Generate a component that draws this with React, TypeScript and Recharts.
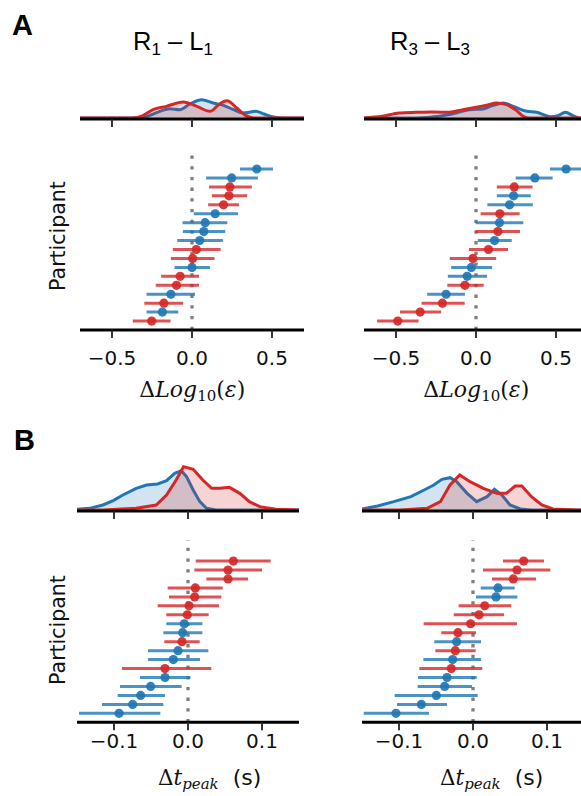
import React from 'react';
import { ScatterChart, Scatter, XAxis, YAxis, ReferenceLine, ErrorBar, AreaChart, Area } from 'recharts';

const BLUE = '#1f77b4';
const RED = '#d62728';

// ---- Participant rows, listed top to bottom ----
// Panel A, R1 - L1
const a1Mean = [0.405, 0.248, 0.237, 0.231, 0.197, 0.145, 0.082, 0.074, 0.048, 0.027, 0.004, 0.0, -0.074, -0.097, -0.132, -0.176, -0.185, -0.252];
const a1Lo = [0.3, 0.088, 0.107, 0.124, 0.101, 0.011, -0.059, -0.057, -0.092, -0.12, -0.132, -0.109, -0.193, -0.227, -0.284, -0.298, -0.284, -0.37];
const a1Hi = [0.506, 0.412, 0.374, 0.345, 0.294, 0.288, 0.221, 0.208, 0.193, 0.179, 0.141, 0.113, 0.044, 0.044, 0.019, -0.055, -0.086, -0.134];
const a1Grp = ['b', 'b', 'r', 'r', 'r', 'b', 'b', 'b', 'b', 'r', 'r', 'b', 'r', 'r', 'b', 'r', 'b', 'r'];

// Panel A, R3 - L3
const a3Mean = [0.563, 0.368, 0.239, 0.235, 0.21, 0.149, 0.147, 0.137, 0.116, 0.078, -0.019, -0.029, -0.055, -0.069, -0.187, -0.21, -0.349, -0.489];
const a3Lo = [0.462, 0.248, 0.13, 0.13, 0.071, 0.029, -0.002, -0.002, 0.011, -0.044, -0.164, -0.155, -0.176, -0.179, -0.305, -0.34, -0.475, -0.618];
const a3Hi = [0.68, 0.479, 0.353, 0.342, 0.355, 0.273, 0.296, 0.275, 0.223, 0.2, 0.126, 0.101, 0.069, 0.048, -0.069, -0.071, -0.218, -0.359];
const a3Grp = ['b', 'b', 'r', 'b', 'b', 'r', 'b', 'r', 'b', 'r', 'r', 'b', 'b', 'r', 'b', 'r', 'r', 'r'];

// Panel B, R1 - L1
const b1Mean = [0.0613, 0.0541, 0.0541, 0.0099, 0.009, 0.0014, -0.0009, -0.005, -0.0072, -0.0081, -0.0135, -0.0198, -0.0311, -0.0311, -0.0505, -0.064, -0.0748, -0.0932];
const b1Lo = [0.0104, 0.0086, 0.0248, -0.0275, -0.0257, -0.041, -0.0293, -0.0293, -0.0333, -0.032, -0.054, -0.054, -0.0892, -0.0649, -0.0919, -0.095, -0.1162, -0.1473];
const b1Hi = [0.1117, 0.1, 0.0811, 0.0468, 0.045, 0.0419, 0.0279, 0.0194, 0.0194, 0.0158, 0.0275, 0.0162, 0.0315, 0.0032, -0.0086, -0.0311, -0.0333, -0.0374];
const b1Grp = ['r', 'r', 'r', 'r', 'r', 'r', 'r', 'b', 'b', 'r', 'b', 'b', 'r', 'b', 'b', 'b', 'b', 'b'];

// Panel B, R3 - L3
const b3Mean = [0.0685, 0.0595, 0.0545, 0.0338, 0.0311, 0.0158, 0.0081, -0.0032, -0.0203, -0.0221, -0.0239, -0.0275, -0.0293, -0.0351, -0.0383, -0.0495, -0.0698, -0.1041];
const b3Lo = [0.0405, 0.0135, 0.0257, 0.0104, 0.0041, -0.0194, -0.0261, -0.0667, -0.0428, -0.0523, -0.0509, -0.0671, -0.0725, -0.0743, -0.0748, -0.1059, -0.1027, -0.1477];
const b3Hi = [0.0959, 0.1045, 0.0851, 0.0563, 0.0599, 0.0518, 0.0419, 0.0595, 0.0041, 0.0108, 0.0036, 0.0108, 0.0126, 0.005, -0.0014, 0.0063, -0.0351, -0.0595];
const b3Grp = ['r', 'r', 'r', 'b', 'b', 'r', 'r', 'r', 'r', 'b', 'r', 'b', 'r', 'b', 'b', 'b', 'b', 'b'];

// ---- Density curves (relative heights) ----
const a1BlueX = [-0.7, -0.31, -0.265, -0.2, -0.14, -0.076, -0.013, 0.06, 0.134, 0.197, 0.26, 0.32, 0.397, 0.45, 0.51, 0.57, 0.7];
const a1BlueD = [0, 0, 8, 20, 28, 25, 42, 55, 45, 38, 25, 15, 20, 12, 3, 0, 0];
const a1RedX = [-0.7, -0.37, -0.307, -0.244, -0.16, -0.055, 0.03, 0.113, 0.166, 0.218, 0.28, 0.334, 0.387, 0.7];
const a1RedD = [0, 0, 7, 25, 35, 48, 35, 20, 40, 52, 30, 8, 0, 0];

const a3BlueX = [-0.7, -0.376, -0.229, -0.124, -0.04, 0.044, 0.107, 0.17, 0.233, 0.317, 0.38, 0.464, 0.506, 0.559, 0.61, 0.653, 0.7];
const a3BlueD = [0, 0, 5, 15, 25, 27, 38, 45, 35, 20, 17, 4, 6, 17, 6, 0, 0];
const a3RedX = [-0.7, -0.586, -0.481, -0.376, -0.271, -0.166, -0.082, 0.002, 0.065, 0.128, 0.191, 0.254, 0.296, 0.338, 0.7];
const a3RedD = [0, 5, 15, 17, 18, 17, 25, 32, 38, 45, 40, 22, 5, 0, 0];

const b1BlueX = [-0.15, -0.133, -0.115, -0.101, -0.088, -0.07, -0.056, -0.041, -0.029, -0.018, -0.009, -0.002, 0.007, 0.016, 0.025, 0.038, 0.15];
const b1BlueD = [2, 5, 15, 28, 45, 65, 75, 78, 88, 110, 118, 100, 60, 25, 5, 0, 0];
const b1RedX = [-0.15, -0.115, -0.07, -0.043, -0.029, -0.016, -0.006, 0.007, 0.02, 0.032, 0.043, 0.056, 0.07, 0.083, 0.097, 0.119, 0.15];
const b1RedD = [0, 0, 5, 15, 45, 90, 130, 122, 90, 65, 65, 68, 50, 25, 10, 2, 0];

const b3BlueX = [-0.15, -0.129, -0.107, -0.084, -0.066, -0.053, -0.042, -0.031, -0.022, -0.008, 0.005, 0.019, 0.029, 0.039, 0.05, 0.064, 0.078, 0.15];
const b3BlueD = [3, 12, 25, 40, 60, 75, 92, 97, 85, 50, 25, 40, 62, 45, 15, 3, 0, 0];
const b3RedX = [-0.15, -0.098, -0.062, -0.044, -0.031, -0.018, -0.004, 0.014, 0.032, 0.045, 0.057, 0.066, 0.079, 0.093, 0.108, 0.14, 0.15];
const b3RedD = [0, 0, 5, 25, 75, 105, 85, 65, 50, 50, 72, 72, 40, 15, 3, 0, 0];

// ---- Axes ----
const aDomain: [number, number] = [-0.7, 0.7];
const aTicks = [-0.5, 0, 0.5];
const bDomain: [number, number] = [-0.15, 0.15];
const bTicks = [-0.1, 0, 0.1];
const rowDomain: [number, number] = [-1, 19.35];
const kdeDomain: [number, number] = [-3, 147];

const fmt = (v: number) => (v < 0 ? '\u2212' : '') + Math.abs(v).toFixed(1);

function buildRows(mean: number[], lo: number[], hi: number[], grp: string[], g: string) {
  const n = mean.length;
  const out: { x: number; y: number; err: [number, number] }[] = [];
  for (let i = 0; i < n; i++) {
    if (grp[i] !== g) continue;
    out.push({ x: mean[i], y: n - 1 - i, err: [mean[i] - lo[i], hi[i] - mean[i]] });
  }
  return out;
}

function buildKde(bx: number[], bd: number[], rx: number[], rd: number[]) {
  const map = new Map<number, { x: number; b?: number; r?: number }>();
  bx.forEach((x, i) => {
    const o = map.get(x) || { x };
    o.b = bd[i];
    map.set(x, o);
  });
  rx.forEach((x, i) => {
    const o = map.get(x) || { x };
    o.r = rd[i];
    map.set(x, o);
  });
  return Array.from(map.values()).sort((p, q) => p.x - q.x);
}

const FONT = 'DejaVu Sans, sans-serif';
const TICK_FS = 20;

type PanelProps = {
  mean: number[]; lo: number[]; hi: number[]; grp: string[];
  domain: [number, number]; ticks: number[];
  x0: number; x1: number; yTop: number; yBottom: number; tickMargin: number;
};

const Dot = (color: string) => (p: any) => (
  <circle cx={p.cx} cy={p.cy} r={4.6} fill={color} fillOpacity={0.92} />
);

function ScatterPanel(props: PanelProps) {
  const { mean, lo, hi, grp, domain, ticks, x0, x1, yTop, yBottom, tickMargin } = props;
  const blue = buildRows(mean, lo, hi, grp, 'b');
  const red = buildRows(mean, lo, hi, grp, 'r');
  const plotH = yBottom - yTop;
  const width = x1 - x0 + 20;
  const height = 8 + plotH + 50;
  return (
    <div style={{ position: 'absolute', left: x0 - 10, top: yTop - 8 }}>
      <ScatterChart width={width} height={height} margin={{ top: 8, right: 10, bottom: 0, left: 10 }}>
        <XAxis
          type="number" dataKey="x" domain={domain} ticks={ticks} allowDataOverflow
          tickFormatter={fmt} height={50}
          axisLine={{ stroke: '#000', strokeWidth: 3 }}
          tickLine={{ stroke: '#222', strokeWidth: 1.8 }} tickSize={8} tickMargin={tickMargin}
          tick={{ fill: '#111', fontSize: TICK_FS, fontFamily: FONT }}
          interval={0}
        />
        <YAxis type="number" dataKey="y" domain={rowDomain} hide allowDataOverflow />
        <ReferenceLine x={0} stroke="#7f7f7f" strokeWidth={3.3} strokeDasharray="3.3 7.4" />
        <Scatter data={blue} fill={BLUE} isAnimationActive={false} shape={Dot(BLUE)}>
          <ErrorBar dataKey="err" direction="x" width={0} stroke={BLUE} strokeWidth={3} strokeOpacity={0.8} />
        </Scatter>
        <Scatter data={red} fill={RED} isAnimationActive={false} shape={Dot(RED)}>
          <ErrorBar dataKey="err" direction="x" width={0} stroke={RED} strokeWidth={3} strokeOpacity={0.8} />
        </Scatter>
      </ScatterChart>
    </div>
  );
}

type KdeProps = {
  data: { x: number; b?: number; r?: number }[];
  domain: [number, number]; ticks: number[];
  x0: number; x1: number; baseline: number; curve: 'monotone' | 'linear';
};

function KdePanel(props: KdeProps) {
  const { data, domain, ticks, x0, x1, baseline, curve } = props;
  const plotH = 50;
  const width = x1 - x0 + 20;
  const height = 8 + plotH + 20;
  return (
    <div style={{ position: 'absolute', left: x0 - 10, top: baseline - plotH - 8 }}>
      <AreaChart width={width} height={height} data={data} margin={{ top: 8, right: 10, bottom: 0, left: 10 }}>
        <XAxis
          type="number" dataKey="x" domain={domain} ticks={ticks} allowDataOverflow
          tickFormatter={() => ''} height={20}
          axisLine={{ stroke: '#000', strokeWidth: 3 }}
          tickLine={{ stroke: '#222', strokeWidth: 1.8 }} tickSize={8}
          interval={0}
        />
        <YAxis type="number" domain={kdeDomain} hide allowDataOverflow />
        <Area type={curve} dataKey="b" stroke={BLUE} strokeWidth={3} fill={BLUE} fillOpacity={0.2}
          connectNulls isAnimationActive={false} dot={false} activeDot={false} />
        <Area type={curve} dataKey="r" stroke={RED} strokeWidth={3} fill={RED} fillOpacity={0.2}
          connectNulls isAnimationActive={false} dot={false} activeDot={false} />
      </AreaChart>
    </div>
  );
}

const A1X0 = 80.3, A1X1 = 304.3;
const A3X0 = 364.3, A3X1 = 588.3;
const B1X0 = 77.3, B1X1 = 299.3;
const B3X0 = 361.7, B3X1 = 583.7;

export default function App() {
  const math = 'DejaVu Serif, serif';
  return (
    <div style={{ position: 'absolute', left: 0, top: 0, width: 581, height: 796, overflow: 'hidden', background: '#fff' }}>
      <KdePanel data={buildKde(a1BlueX, a1BlueD, a1RedX, a1RedD)} domain={aDomain} ticks={aTicks} x0={A1X0} x1={A1X1} baseline={119.3} curve="monotone" />
      <KdePanel data={buildKde(a3BlueX, a3BlueD, a3RedX, a3RedD)} domain={aDomain} ticks={aTicks} x0={A3X0} x1={A3X1} baseline={119.3} curve="monotone" />
      <KdePanel data={buildKde(b1BlueX, b1BlueD, b1RedX, b1RedD)} domain={bDomain} ticks={bTicks} x0={B1X0} x1={B1X1} baseline={511} curve="linear" />
      <KdePanel data={buildKde(b3BlueX, b3BlueD, b3RedX, b3RedD)} domain={bDomain} ticks={bTicks} x0={B3X0} x1={B3X1} baseline={511} curve="linear" />

      <ScatterPanel mean={a1Mean} lo={a1Lo} hi={a1Hi} grp={a1Grp} domain={aDomain} ticks={aTicks} x0={A1X0} x1={A1X1} yTop={148.2} yBottom={330.2} tickMargin={12.5} />
      <ScatterPanel mean={a3Mean} lo={a3Lo} hi={a3Hi} grp={a3Grp} domain={aDomain} ticks={aTicks} x0={A3X0} x1={A3X1} yTop={148.2} yBottom={330.2} tickMargin={12.5} />
      <ScatterPanel mean={b1Mean} lo={b1Lo} hi={b1Hi} grp={b1Grp} domain={bDomain} ticks={bTicks} x0={B1X0} x1={B1X1} yTop={540.3} yBottom={722.6} tickMargin={3.5} />
      <ScatterPanel mean={b3Mean} lo={b3Lo} hi={b3Hi} grp={b3Grp} domain={bDomain} ticks={bTicks} x0={B3X0} x1={B3X1} yTop={540.3} yBottom={722.6} tickMargin={3.5} />

      <svg width={581} height={796} style={{ position: 'absolute', left: 0, top: 0, pointerEvents: 'none' }}>
        <text x={12} y={35} fontFamily="Liberation Sans, Arial, sans-serif" fontWeight="bold" fontSize={29} fill="#000">A</text>
        <text x={14} y={450} fontFamily="Liberation Sans, Arial, sans-serif" fontWeight="bold" fontSize={29} fill="#000">B</text>

        <text x={133} y={50} fontFamily="Liberation Sans, Arial, sans-serif" fontSize={25.5} fill="#000">
          R<tspan fontSize={17} dy={5}>1</tspan><tspan dy={-5}> – L</tspan><tspan fontSize={17} dy={5}>1</tspan>
        </text>
        <text x={390} y={50} fontFamily="Liberation Sans, Arial, sans-serif" fontSize={25.5} fill="#000">
          R<tspan fontSize={17} dy={5}>3</tspan><tspan dy={-5}> – L</tspan><tspan fontSize={17} dy={5}>3</tspan>
        </text>

        <text transform="translate(65,236) rotate(-90)" textAnchor="middle" fontFamily={FONT} fontSize={20.5} fill="#111">Participant</text>
        <text transform="translate(65,630) rotate(-90)" textAnchor="middle" fontFamily={FONT} fontSize={20.5} fill="#111">Participant</text>

        {[192.3, 476.3].map((cx) => (
          <text key={cx} x={cx} y={397} textAnchor="middle" fontFamily={math} fontSize={22} fill="#111">
            Δ<tspan fontStyle="italic">Log</tspan><tspan fontSize={15} dy={4}>10</tspan><tspan dy={-4}>(</tspan><tspan fontStyle="italic">ε</tspan>)
          </text>
        ))}
        {[158, 440].map((lx) => (
          <text key={lx} x={lx} y={785} fontFamily={math} fontSize={21.5} fill="#111">
            Δ<tspan fontStyle="italic">t</tspan><tspan fontStyle="italic" fontSize={15} dy={4}>peak</tspan><tspan dy={-4} fontFamily={FONT} fontSize={22}>{'\u00a0\u00a0(s)'}</tspan>
          </text>
        ))}
      </svg>
    </div>
  );
}
